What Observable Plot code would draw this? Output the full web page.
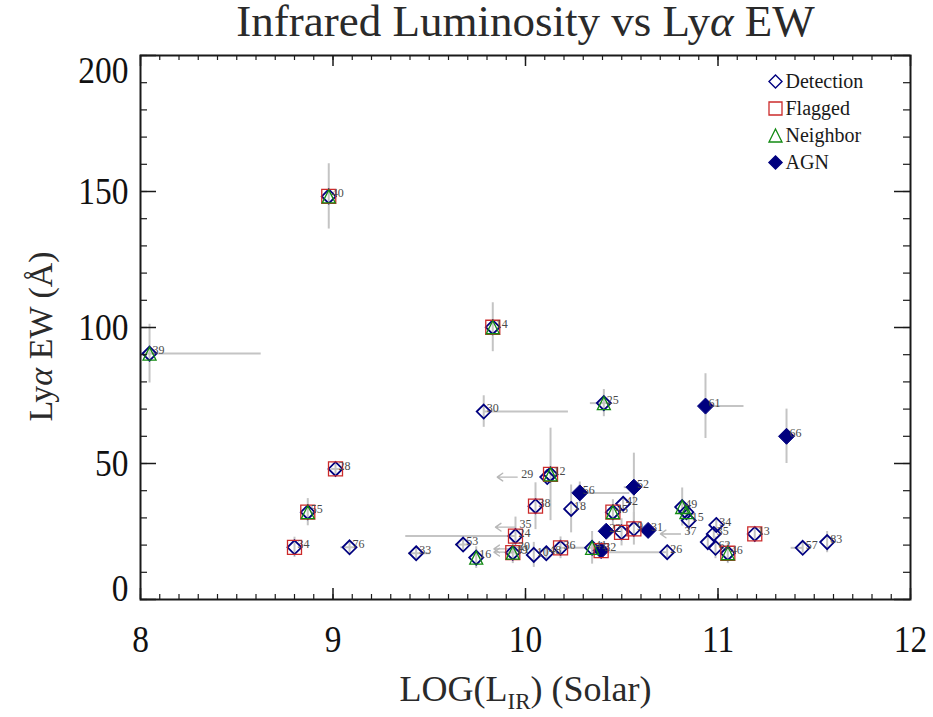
<!DOCTYPE html>
<html>
<head>
<meta charset="utf-8">
<script src="https://cdn.jsdelivr.net/npm/d3@7"></script>
<script src="https://cdn.jsdelivr.net/npm/@observablehq/plot@0.6"></script>
<style>
  body { margin: 0; background: #fff; }
  svg { display: block; }
</style>
</head>
<body>
<div id="chart"></div>
<script>
// Lyman-alpha emitters: infrared luminosity against Lyα equivalent width.
// kind: D = detection, F = flagged, N = neighbor, FN = flagged + neighbor,
//       A = AGN, AF = AGN + flagged
const labels = ["40", "39", "14", "30", "25", "61", "66", "28", "55", "34",
                "76", "33", "53", "16", "24", "19", "10", "48", "36", "38",
                "", "12", "18", "56", "52", "42", "45", "22", "", "9",
                "31", "41", "32", "26", "49", "", "15", "34", "35", "",
                "62", "46", "13", "57", "83"];
const logLIR = [8.978, 8.047, 9.830, 9.783, 10.407, 10.935, 11.356, 9.013, 8.869, 8.800,
                9.086, 9.432, 9.676, 9.744, 9.948, 9.934, 10.043, 10.108, 10.182, 10.052,
                10.113, 10.130, 10.237, 10.282, 10.563, 10.507, 10.454, 10.419, 10.499, 10.563,
                10.637, 10.346, 10.393, 10.736, 10.814, 10.836, 10.848, 10.991, 10.978, 10.947,
                10.987, 11.051, 11.191, 11.440, 11.567];
const lyaEW  = [148.2, 90.4, 100.1, 69.1, 72.2, 71.1, 60.0, 48.0, 32.1, 19.2,
                19.2, 17.0, 20.2, 15.4, 23.3, 17.2, 16.4, 17.0, 19.0, 34.3,
                45.0, 46.0, 33.3, 39.2, 41.3, 35.2, 32.1, 25.1, 24.7, 26.0,
                25.4, 19.0, 18.0, 17.4, 34.0, 32.1, 29.0, 27.4, 24.1, 21.1,
                19.0, 17.0, 24.1, 19.0, 21.1];
const xErrLo = [0, 0.58, 0, 0, 0.07, 0, 0, 0.02, 0, 0,
                0.046, 0.04, 0.04, 0, 0.57, 0.03, 0, 0, 0, 0,
                0, 0, 0, 0, 0.05, 0, 0, 0, 0, 0,
                0, 0.165, 0, 0.345, 0, 0, 0, 0, 0, 0,
                0, 0, 0, 0.06, 0];
const xErrHi = [0, 0.58, 0, 0.44, 0.03, 0.2, 0, 0.02, 0, 0,
                0.03, 0.075, 0.04, 0, 0, 0, 0, 0, 0, 0,
                0, 0, 0, 0.26, 0, 0, 0, 0, 0, 0,
                0, 0, 0, 0, 0, 0, 0, 0, 0, 0,
                0, 0, 0, 0, 0];
const yErr   = [12, 10.8, 9, 5.8, 5, 11.9, 10, 2, 5, 3.7,
                2.4, 2, 2.5, 4, 7, 4, 4.6, 2, 4, 8.6,
                0, 17, 8.8, 4, 12.5, 2, 4.6, 2, 5, 6,
                2, 6, 2, 2, 7, 2, 5, 2, 2, 2,
                4, 3.8, 2, 2, 3.9];
const kind   = ["FN", "N", "FN", "D", "N", "A", "A", "F", "FN", "F",
                "D", "D", "D", "N", "F", "FN", "D", "D", "F", "F",
                "D", "FN", "D", "A", "A", "D", "FN", "A", "F", "F",
                "A", "N", "AF", "D", "N", "N", "D", "D", "D", "D",
                "D", "FN", "F", "D", "D"];

// upper limits in L_IR (drawn as left-pointing arrows)
const limitLabels = ["29", "35", "20", "11", "37"];
const limitLIR    = [9.957, 9.948, 9.940, 9.940, 10.805];
const limitEW     = [45.0, 26.6, 18.6, 17.4, 24.1];

const xTicks = [8, 9, 10, 11, 12];
const yTicks = [0, 50, 100, 150, 200];
const legendNames = ["Detection", "Flagged", "Neighbor", "AGN"];

const points = labels.map((id, i) => ({
  id, x: logLIR[i], y: lyaEW[i],
  exLo: xErrLo[i], exHi: xErrHi[i], ey: yErr[i], kind: kind[i]
}));
const limits = limitLabels.map((id, i) => ({id, x: limitLIR[i], y: limitEW[i]}));

const serif = "Liberation Serif, Times New Roman, serif";
const navy = "#00007f", red = "#cc2b2b", green = "#128a12", grey = "#c4c4c4";

// outline shapes sized so that r is the half-width
const half = (size) => Math.sqrt(size / Math.PI);
const diamondSym = {draw(c, s) { const h = half(s); c.moveTo(0, -h); c.lineTo(h, 0); c.lineTo(0, h); c.lineTo(-h, 0); c.closePath(); }};
const squareSym  = {draw(c, s) { const h = half(s); c.rect(-h, -h, 2 * h, 2 * h); }};
const triSym     = {draw(c, s) { const h = half(s); c.moveTo(0, -h); c.lineTo(h, h); c.lineTo(-h, h); c.closePath(); }};

const W = 933, H = 717, mL = 140, mR = 23, mT = 55, mB = 118;
const plotW = W - mL - mR, plotH = H - mT - mB;
const minorX = d3.range(80, 121).map(d => d / 10);
const minorY = d3.range(0, 201, 10);
const axisInk = "#1a1a1a";

const hasDiamond = d => d.kind === "D" || d.kind === "F" || d.kind === "N" || d.kind === "FN";
const hasSquare = d => d.kind === "F" || d.kind === "FN" || d.kind === "AF";
const hasTri = d => d.kind === "N" || d.kind === "FN";
const isAGN = d => d.kind === "A" || d.kind === "AF";

const legendRow = (i) => 26 + 27 * i;

const chart = Plot.plot({
  width: W, height: H,
  marginLeft: mL, marginRight: mR, marginTop: mT, marginBottom: mB,
  style: {fontFamily: serif, background: "#fff"},
  x: {domain: [8, 12]},
  y: {domain: [0, 200]},
  marks: [
    // error bars
    Plot.ruleX(points.filter(d => d.ey > 0), {x: "x", y1: d => d.y - d.ey, y2: d => d.y + d.ey, stroke: grey, strokeWidth: 2, clip: true}),
    Plot.ruleY(points.filter(d => d.exLo > 0 || d.exHi > 0), {y: "y", x1: d => d.x - d.exLo, x2: d => d.x + d.exHi, stroke: grey, strokeWidth: 2, clip: true}),
    // upper limits
    Plot.arrow(limits, {x1: "x", y1: "y", x2: d => d.x - 0.104, y2: "y", stroke: "#b8b8b8", strokeWidth: 1.4, headAngle: 70, headLength: 9}),
    // symbols
    Plot.dot(points.filter(isAGN), {x: "x", y: "y", symbol: diamondSym, r: 8, fill: navy, stroke: navy, strokeWidth: 1}),
    Plot.dot(points.filter(hasDiamond), {x: "x", y: "y", symbol: diamondSym, r: 7, fill: "none", stroke: navy, strokeWidth: 1.8}),
    Plot.dot(points.filter(hasSquare), {x: "x", y: "y", symbol: squareSym, r: 7, fill: "none", stroke: red, strokeWidth: 1.3}),
    Plot.dot(points.filter(hasTri), {x: "x", y: "y", symbol: triSym, r: 6.5, fill: "none", stroke: green, strokeWidth: 1.3}),
    // object numbers
    Plot.text(points.filter(d => d.id), {x: "x", y: "y", text: "id", dx: 3, dy: -3, textAnchor: "start", fontSize: 12, fill: "#4a4a4a"}),
    Plot.text(limits, {x: "x", y: "y", text: "id", dx: 4, dy: -3, textAnchor: "start", fontSize: 12, fill: "#4a4a4a"}),
    // frame and inward ticks
    Plot.frame({stroke: axisInk, strokeWidth: 2}),
    Plot.tickX(xTicks, {x: d => d, insetTop: plotH - 11, stroke: axisInk, strokeWidth: 1.5}),
    Plot.tickX(minorX, {x: d => d, insetTop: plotH - 5, stroke: axisInk, strokeWidth: 1.2}),
    Plot.tickX(xTicks, {x: d => d, insetBottom: plotH - 11, stroke: axisInk, strokeWidth: 1.5}),
    Plot.tickX(minorX, {x: d => d, insetBottom: plotH - 5, stroke: axisInk, strokeWidth: 1.2}),
    Plot.tickY(yTicks, {y: d => d, insetRight: plotW - 16, stroke: axisInk, strokeWidth: 1.5}),
    Plot.tickY(minorY, {y: d => d, insetRight: plotW - 7, stroke: axisInk, strokeWidth: 1.2}),
    Plot.tickY(yTicks, {y: d => d, insetLeft: plotW - 16, stroke: axisInk, strokeWidth: 1.5}),
    Plot.tickY(minorY, {y: d => d, insetLeft: plotW - 7, stroke: axisInk, strokeWidth: 1.2}),
    // tick labels
    Plot.axisX({ticks: xTicks, anchor: "bottom", tickSize: 0, tickPadding: 26, fontSize: 38, label: null, tickFormat: d => String(d), fill: "#111"}),
    Plot.axisY({ticks: [50, 100, 150], anchor: "left", tickSize: 0, tickPadding: 12, fontSize: 38, label: null, tickFormat: d => String(d), fill: "#111"}),
    Plot.axisY({ticks: [200], anchor: "left", tickSize: 0, tickPadding: 12, fontSize: 38, label: null, dy: 15, tickFormat: d => String(d), fill: "#111"}),
    Plot.axisY({ticks: [0], anchor: "left", tickSize: 0, tickPadding: 12, fontSize: 38, label: null, dy: -11, tickFormat: d => String(d), fill: "#111"}),
    // titles
    Plot.text(["Infrared Luminosity vs Lyα EW"], {frameAnchor: "top", dy: -20, lineAnchor: "bottom", fontSize: 45, fill: "#2a2a2a"}),
    Plot.text(["LOG(LIR) (Solar)"], {frameAnchor: "bottom", dy: 101, lineAnchor: "bottom", fontSize: 36, fill: "#2a2a2a"}),
    Plot.text(["Lyα EW (Å)"], {frameAnchor: "left", dx: -99, dy: 9, rotate: -90, textAnchor: "middle", lineAnchor: "middle", fontSize: 34, fill: "#2a2a2a"}),
    // legend
    Plot.dot([0], {frameAnchor: "top-right", dx: -135, dy: legendRow(0), symbol: diamondSym, r: 6.5, fill: "none", stroke: navy, strokeWidth: 1.4}),
    Plot.dot([0], {frameAnchor: "top-right", dx: -135, dy: legendRow(1), symbol: squareSym, r: 6.5, fill: "none", stroke: red, strokeWidth: 1.3}),
    Plot.dot([0], {frameAnchor: "top-right", dx: -135, dy: legendRow(2), symbol: triSym, r: 6.5, fill: "none", stroke: green, strokeWidth: 1.3}),
    Plot.dot([0], {frameAnchor: "top-right", dx: -135, dy: legendRow(3), symbol: diamondSym, r: 6.5, fill: navy, stroke: navy}),
    ...legendNames.map((name, i) => Plot.text([name], {frameAnchor: "top-right", dx: -125, dy: legendRow(i), textAnchor: "start", lineAnchor: "middle", fontSize: 20, fill: "#1a1a1a"}))
  ]
});

document.getElementById("chart").appendChild(chart);

// Greek italic alpha and the IR subscript
function richText(plain, parts) {
  d3.select(chart).selectAll("text")
    .filter(function () { return this.textContent === plain; })
    .each(function () {
      const t = d3.select(this);
      t.text(null);
      for (const p of parts) {
        const s = t.append("tspan").text(p.text);
        if (p.italic) s.attr("font-style", "italic");
        if (p.size) s.attr("font-size", p.size);
        if (p.dy) s.attr("dy", p.dy);
      }
    });
}
richText("Infrared Luminosity vs Lyα EW", [{text: "Infrared Luminosity vs Ly"}, {text: "α", italic: true}, {text: " EW"}]);
richText("Lyα EW (Å)", [{text: "Ly"}, {text: "α", italic: true}, {text: " EW (Å)"}]);
richText("LOG(LIR) (Solar)", [{text: "LOG(L"}, {text: "IR", size: 23, dy: 8}, {text: ") (Solar)", dy: -8}]);

// tick numerals are set in a slightly condensed face
d3.select(chart).selectAll('g[aria-label$="tick label"] text').each(function () {
  const w = this.getComputedTextLength();
  this.setAttribute("textLength", (w * 0.88).toFixed(1));
  this.setAttribute("lengthAdjust", "spacingAndGlyphs");
});
</script>
</body>
</html>
